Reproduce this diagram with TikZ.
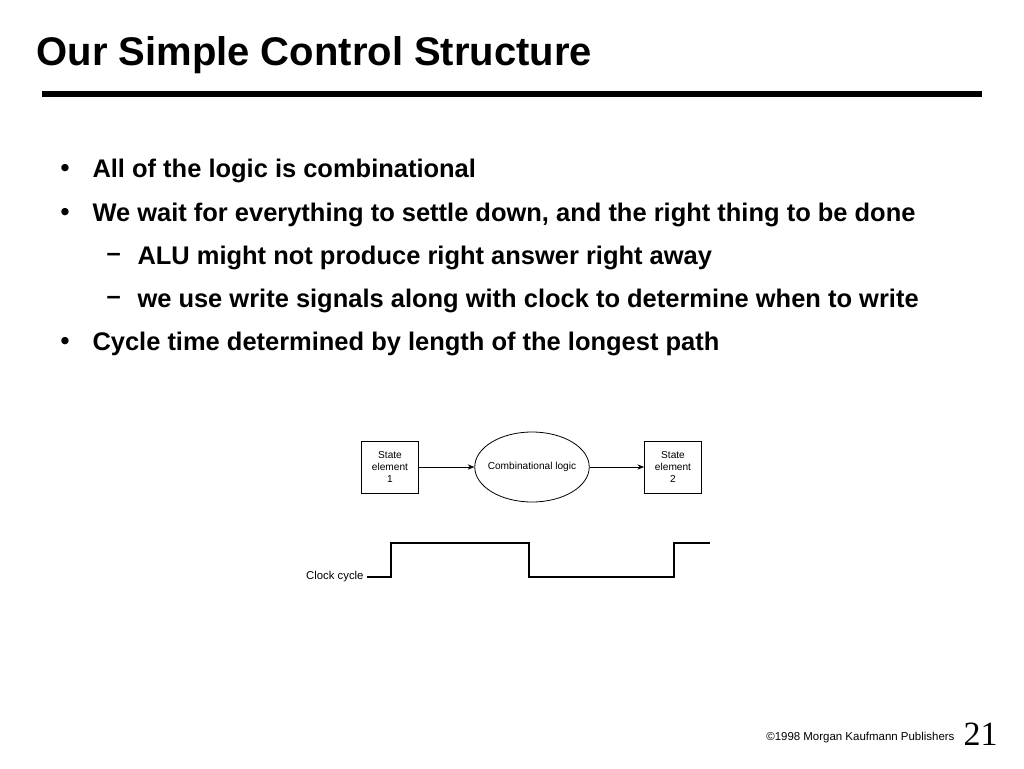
\documentclass[tikz,border=0pt]{standalone}
\usepackage{fontspec}
\setmainfont{Liberation Sans}
\newfontfamily\pagefont{Liberation Serif}
\usetikzlibrary{shapes.geometric,arrows.meta}

\tikzset{every picture/.style={line width=0.75pt}}
\tikzset{
  statebox/.style={draw, line width=0.6pt, minimum width=42.75pt, minimum height=39pt, inner sep=0pt, align=center, font=\fontsize{7.6}{9.2}\selectfont},
  logicell/.style={ellipse, draw, line width=0.6pt, minimum width=85.5pt, minimum height=52.5pt, inner xsep=-2.8pt, inner ysep=0pt, font=\fontsize{7.6}{9.2}\selectfont},
  bulletpt/.style={anchor=west, inner sep=0pt, font=\bfseries\fontsize{19.1}{23}\selectfont},
  flow/.style={line width=0.6pt, -{Stealth[length=5pt,width=4pt]}}
}

\begin{document}
\begin{tikzpicture}[x=0.75pt,y=0.75pt,yscale=-1,xscale=1]
\useasboundingbox (0,0) rectangle (1024,768);

% Title
\node [anchor=base west, inner sep=0pt, font=\bfseries\fontsize{30}{36}\selectfont] (title) at (36,65) {Our Simple Control Structure};
%Shape: Rule
\fill (42,91) rectangle (982,97);

% Bullets
\node [bulletpt] (b1) at (60,170.5) {•};
\node [bulletpt] (t1) at (92,170.5) {All of the logic is combinational};
\node [bulletpt] (b2) at (60,214.5) {•};
\node [bulletpt] (t2) at (92,214.5) {We wait for everything to settle down, and the right thing to be done};
\node [bulletpt] (b3) at (106,257.5) {–};
\node [bulletpt] (t3) at (137,257.5) {ALU might not produce right answer right away};
\node [bulletpt] (b4) at (106,300.5) {–};
\node [bulletpt] (t4) at (137,300.5) {we use write signals along with clock to determine when to write};
\node [bulletpt] (b5) at (60,343.5) {•};
\node [bulletpt] (t5) at (92,343.5) {Cycle time determined by length of the longest path};

%Shape: State elements and logic
\node [statebox] (se1) at (390,467) {State\\element\\1};
\node [logicell] (comb) at (532,467) {Combinational logic};
\node [statebox] (se2) at (673,467) {State\\element\\2};

%Straight Lines
\draw [flow] (se1) -- (comb);
\draw [flow] (comb) -- (se2);

% Text Node
\node [anchor=east, inner sep=0pt, font=\fontsize{8.5}{10}\selectfont] (clk) at (364,577) {Clock cycle};
\coordinate (clkend) at (710,543);

%Shape: Clock waveform
\draw [line width=0.9pt] (clk.east) ++(3,0) -- (391,577) -- (391,543) -- (529,543) -- (529,577) -- (674,577) -- (674,543) -- (clkend);

% Footer
\node [anchor=base east, inner sep=0pt, font=\fontsize{8.6}{10}\selectfont] (credit) at (955,740) {©1998 Morgan Kaufmann Publishers};
\node [anchor=base west, inner sep=0pt, font=\pagefont\fontsize{25.5}{30}\selectfont] (pagenum) at (963,745) {21};

\end{tikzpicture}
\end{document}
